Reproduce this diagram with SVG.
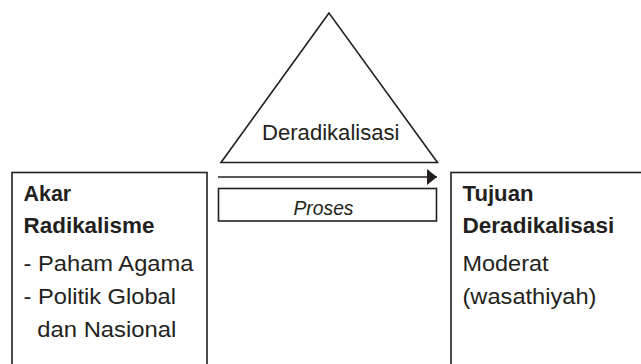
<svg xmlns="http://www.w3.org/2000/svg" width="641" height="364" viewBox="0 0 641 364">
<style>
.box{fill:#fff;stroke:#231f20;stroke-width:1.6}
.ln{fill:none;stroke:#231f20;stroke-width:1.6}
text{font-family:"Liberation Sans",Arial,Helvetica,sans-serif;fill:#231f20;font-size:22.5px}
.b{font-weight:bold;font-size:22px}
.i{font-style:italic;font-size:20.5px}
</style>
<defs>
<marker id="ah" markerWidth="10" markerHeight="16" refX="10" refY="8" orient="auto" markerUnits="userSpaceOnUse">
<path d="M0,0 L10,8 L0,16 Z" fill="#231f20"/>
</marker>
</defs>
<rect width="641" height="364" fill="#fff"/>
<g id="deradikalisasi">
<polygon class="box" points="329,13 221,162.5 437.5,162.5"/>
<text x="262" y="140" textLength="137.5" lengthAdjust="spacingAndGlyphs">Deradikalisasi</text>
</g>
<g id="connectors">
<line class="ln" x1="218" y1="177" x2="437" y2="177" marker-end="url(#ah)"/>
</g>
<g id="proses">
<rect class="box" x="218.5" y="188.5" width="218" height="32.5"/>
<text class="i" x="293.5" y="215" textLength="60" lengthAdjust="spacingAndGlyphs">Proses</text>
</g>
<g id="akar">
<rect class="box" x="12" y="172.5" width="195" height="220"/>
<text class="b" x="23.5" y="201" textLength="47.7" lengthAdjust="spacingAndGlyphs">Akar</text>
<text class="b" x="23.5" y="232.5" textLength="131" lengthAdjust="spacingAndGlyphs">Radikalisme</text>
<text x="23.5" y="270.5" textLength="170" lengthAdjust="spacingAndGlyphs">- Paham Agama</text>
<text x="23.5" y="304" textLength="152.5" lengthAdjust="spacingAndGlyphs">- Politik Global</text>
<text x="37.3" y="337" textLength="139" lengthAdjust="spacingAndGlyphs">dan Nasional</text>
</g>
<g id="tujuan">
<rect class="box" x="451" y="172.5" width="220" height="220"/>
<text class="b" x="462.5" y="201" textLength="71" lengthAdjust="spacingAndGlyphs">Tujuan</text>
<text class="b" x="462.5" y="232.5" textLength="151.7" lengthAdjust="spacingAndGlyphs">Deradikalisasi</text>
<text x="462.5" y="270.5" textLength="86" lengthAdjust="spacingAndGlyphs">Moderat</text>
<text x="462.5" y="304" textLength="134" lengthAdjust="spacingAndGlyphs">(wasathiyah)</text>
</g>
</svg>
